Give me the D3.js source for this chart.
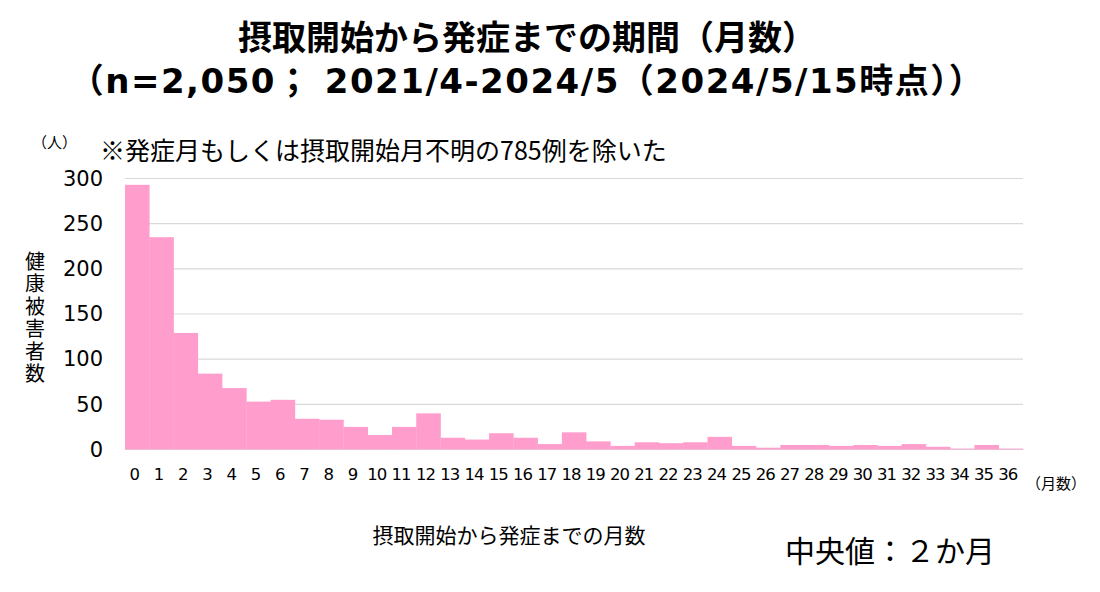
<!DOCTYPE html>
<html>
<head>
<meta charset="utf-8">
<style>
  body { margin: 0; background: #fff; }
  text { font-family: "DejaVu Sans", "Noto Sans CJK JP", sans-serif; }
</style>
</head>
<body>
<svg width="1100" height="592"></svg>
<script src="https://cdn.jsdelivr.net/npm/d3@7"></script>
<script>
    var months = d3.range(0, 37).map(String);
    var counts = [293, 235, 129, 84, 68, 53, 55, 34, 33, 25, 16, 25, 40,
        13, 11, 18, 13, 6, 19, 9, 4, 8, 7, 8, 14,
        4, 2, 5, 5, 4, 5, 4, 6, 3, 1, 5, 1];
    var yTicks = [0, 50, 100, 150, 200, 250, 300];

    var svg = d3.select("svg"),
        plotLeft = 125,
        plotRight = 1023,
        plotTop = 178.5,
        plotBottom = 449.5;

    var x = d3.scaleBand()
        .domain(months)
        .range([plotLeft, plotRight])
        .padding(0);
    var y = d3.scaleLinear()
        .domain([0, 300])
        .range([plotBottom, plotTop]);

    // grid
    svg.append("g")
        .selectAll("line")
        .data(yTicks)
        .enter().append("line")
        .attr("x1", plotLeft)
        .attr("x2", plotRight)
        .attr("y1", function(d) { return y(d); })
        .attr("y2", function(d) { return y(d); })
        .attr("stroke", "#d9d9d9")
        .attr("stroke-width", 1.2);

    // bars
    svg.append("g")
        .selectAll("rect")
        .data(counts)
        .enter().append("rect")
        .attr("x", function(d, i) { return x(months[i]); })
        .attr("width", x.bandwidth() + 0.3)
        .attr("y", function(d) { return y(d); })
        .attr("height", function(d) { return y(0) - y(d); })
        .attr("fill", "#ff9dcd");

    // y axis
    var yAxis = svg.append("g")
        .attr("transform", "translate(" + (plotLeft - 22) + ",0)")
        .call(d3.axisLeft(y).tickValues(yTicks).tickSize(0).tickPadding(0));
    yAxis.select(".domain").remove();
    yAxis.selectAll("text")
        .attr("font-size", 21)
        .attr("fill", "#000")
        .style("font-family", "'DejaVu Sans', sans-serif");

    // x axis
    var xAxis = svg.append("g")
        .attr("transform", "translate(-3," + (plotBottom + 19) + ")")
        .call(d3.axisBottom(x).tickSize(0).tickPadding(0));
    xAxis.select(".domain").remove();
    xAxis.selectAll("text")
        .attr("font-size", 16.5)
        .attr("fill", "#000")
        .attr("letter-spacing", -1)
        .style("font-family", "'DejaVu Sans', sans-serif");

    // titles
    svg.append("text")
        .attr("x", 527)
        .attr("y", 50)
        .attr("text-anchor", "middle")
        .attr("font-size", 34)
        .attr("font-weight", "bold")
        .text("摂取開始から発症までの期間（月数）");
    svg.append("text")
        .attr("x", 527)
        .attr("y", 93)
        .attr("text-anchor", "middle")
        .attr("font-size", 34)
        .attr("letter-spacing", 1.5)
        .attr("font-weight", "bold")
        .text("（n=2,050； 2021/4-2024/5（2024/5/15時点））");

    svg.append("text")
        .attr("x", 32)
        .attr("y", 148)
        .attr("font-size", 15)
        .style("font-family", "'Noto Sans CJK JP', sans-serif")
        .text("（人）");
    svg.append("text")
        .attr("x", 100)
        .attr("y", 160)
        .attr("font-size", 25)
        .style("font-family", "'Noto Sans CJK JP', sans-serif")
        .text("※発症月もしくは摂取開始月不明の785例を除いた");

    // y axis title, vertical writing
    svg.append("text")
        .attr("x", 35)
        .attr("y", 251)
        .attr("font-size", 20)
        .attr("letter-spacing", 2.5)
        .style("writing-mode", "vertical-rl")
        .style("font-family", "'Noto Sans CJK JP', sans-serif")
        .text("健康被害者数");

    svg.append("text")
        .attr("x", 1026)
        .attr("y", 489)
        .attr("font-size", 15)
        .style("font-family", "'Noto Sans CJK JP', sans-serif")
        .text("（月数）");

    svg.append("text")
        .attr("x", 509)
        .attr("y", 543)
        .attr("text-anchor", "middle")
        .attr("font-size", 21)
        .style("font-family", "'Noto Sans CJK JP', sans-serif")
        .text("摂取開始から発症までの月数");

    svg.append("text")
        .attr("x", 785)
        .attr("y", 562)
        .attr("font-size", 30)
        .style("font-family", "'Noto Sans CJK JP', sans-serif")
        .text("中央値：２か月");
</script>
</body>
</html>
